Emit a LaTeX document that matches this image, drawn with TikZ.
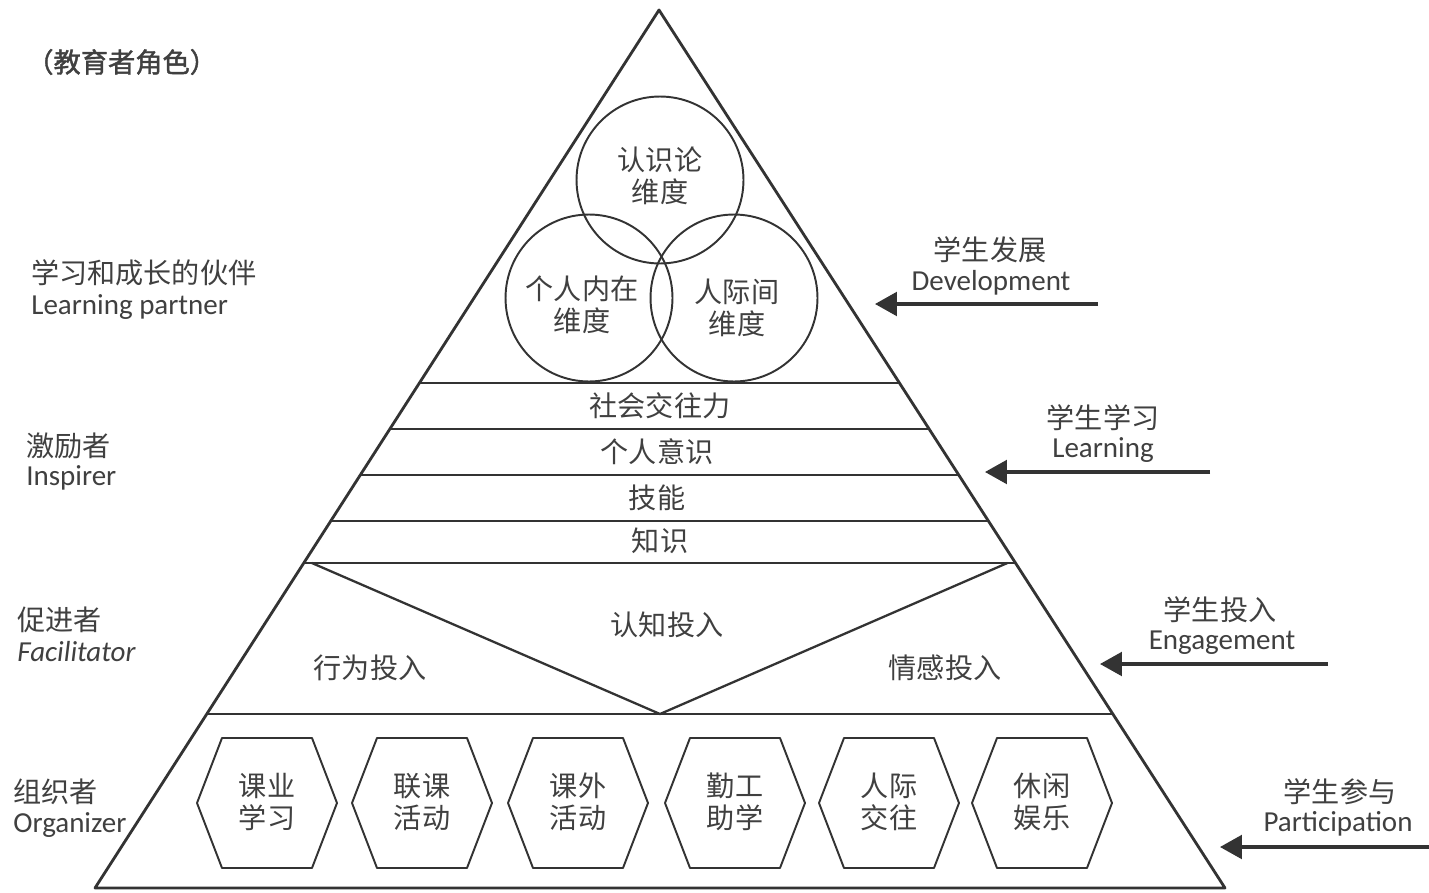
\documentclass[tikz,border=0pt]{standalone}
\usepackage{fontspec}
\setmainfont{Carlito}
\newfontfamily\cjk{Noto Sans CJK SC}
\newfontfamily\cjkb{Noto Sans CJK SC}[FakeBold=1.5]
\usetikzlibrary{arrows.meta,calc}
\definecolor{ink}{gray}{0.2}
\definecolor{txt}{gray}{0.25}
\begin{document}
\begin{tikzpicture}[x=0.02cm,y=-0.02cm,line join=round,
  edge/.style={line width=1.6pt,draw=ink},
  band/.style={line width=1.3pt,draw=ink},
  ring/.style={circle,draw=ink,line width=1.1pt,minimum size=3.34cm,inner sep=0pt},
  hexs/.style={line width=1.1pt,draw=ink},
  zh/.style={font=\cjk\fontsize{16}{18.5}\selectfont,text=txt,inner sep=0pt,align=center},
  en/.style={font=\fontsize{16.5}{19}\selectfont,text=txt,inner sep=0pt},
  arr/.style={line width=1.8pt,draw=ink,-{Triangle[length=12.5pt,width=13.5pt]}}
]
\useasboundingbox[fill=white] (0,0) rectangle (1429,892);

% triangle
\coordinate (A) at (659,10);
\coordinate (BL) at (95,888);
\coordinate (BR) at (1225,888);
\draw[edge] (A) -- (BL) -- (BR) -- cycle;

% horizontal bands
\foreach \f/\n in {0.4248/b1,0.4772/b2,0.5296/b3,0.5820/b4,0.6298/b5,0.8018/b6}{
  \coordinate (\n L) at ($(A)!\f!(BL)$);
  \coordinate (\n R) at ($(A)!\f!(BR)$);
  \draw[band] (\n L) -- (\n R);
}

% engagement V
\coordinate (Vb) at (660,714);
\coordinate (V1) at ($(b5L)+(8,0)$);
\coordinate (V2) at ($(b5R)+(-8,0)$);
\draw[band] (V1) -- (Vb) -- (V2);

% circles
\node[ring] (c1) at (660,180) {};
\node[ring] (c2) at (589,298) {};
\node[ring] (c3) at (734,298) {};
\node[zh,font=\cjk\fontsize{16}{18}\selectfont] (c1t) at (660,176) {认识论\\维度};
\node[zh,font=\cjk\fontsize{16}{18}\selectfont] (c2t) at (582,305) {个人内在\\维度};
\node[zh,font=\cjk\fontsize{16}{18}\selectfont] (c3t) at (737,308) {人际间\\维度};

% band texts
\node[zh] (t1) at (660,406) {社会交往力};
\node[zh] (t2) at (657,452) {个人意识};
\node[zh] (t3) at (657,498) {技能};
\node[zh] (t4) at (660,541) {知识};

% engagement texts
\node[zh] (e1) at (667,625) {认知投入};
\node[zh] (e2) at (370,668) {行为投入};
\node[zh] (e3) at (945,668) {情感投入};

% hexagons
\foreach \cx/\t [count=\i] in {267/{课业\\学习},422/{联课\\活动},578/{课外\\活动},735/{勤工\\助学},889/{人际\\交往},1042/{休闲\\娱乐}}{
  \draw[hexs] (\cx-70,803) -- (\cx-45,738) -- (\cx+45,738) -- (\cx+70,803) -- (\cx+45,868) -- (\cx-45,868) -- cycle;
  \node[zh] (hex\i) at (\cx,802) {\t};
}

% left labels
\node[anchor=west,font=\cjkb\fontsize{15.5}{18}\selectfont,text=txt,inner sep=0pt] (role) at (26,62) {（教育者角色）};
\node[zh,anchor=west] (l1z) at (31,273) {学习和成长的伙伴};
\node[en,anchor=west] (l1e) at (31,307) {Learning partner};
\node[zh,anchor=west] (l2z) at (26,446) {激励者};
\node[en,anchor=west] (l2e) at (26,478) {Inspirer};
\node[zh,anchor=west] (l3z) at (17,620) {促进者};
\node[en,anchor=west,font=\itshape\fontsize{16.5}{19}\selectfont] (l3e) at (17,652) {Facilitator};
\node[zh,anchor=west] (l4z) at (13,792) {组织者};
\node[en,anchor=west] (l4e) at (13,825) {Organizer};

% right labels and arrows
\node[zh] (r1z) at (990,250) {学生发展};
\node[en] (r1e) at (991,283) {Development};
\coordinate (r1s) at (1098,304); \coordinate (r1t) at (875,304);
\draw[arr] (r1s) -- (r1t);

\node[zh] (r2z) at (1103,418) {学生学习};
\node[en] (r2e) at (1103,450) {Learning};
\coordinate (r2s) at (1210,472); \coordinate (r2t) at (985,472);
\draw[arr] (r2s) -- (r2t);

\node[zh] (r3z) at (1220,610) {学生投入};
\node[en] (r3e) at (1222,643) {Engagement};
\coordinate (r3s) at (1328,664); \coordinate (r3t) at (1100,664);
\draw[arr] (r3s) -- (r3t);

\node[zh] (r4z) at (1340,792) {学生参与};
\node[en] (r4e) at (1338,824) {Participation};
\coordinate (r4s) at (1429,847); \coordinate (r4t) at (1220,847);
\draw[arr] (r4s) -- (r4t);
\end{tikzpicture}
\end{document}
